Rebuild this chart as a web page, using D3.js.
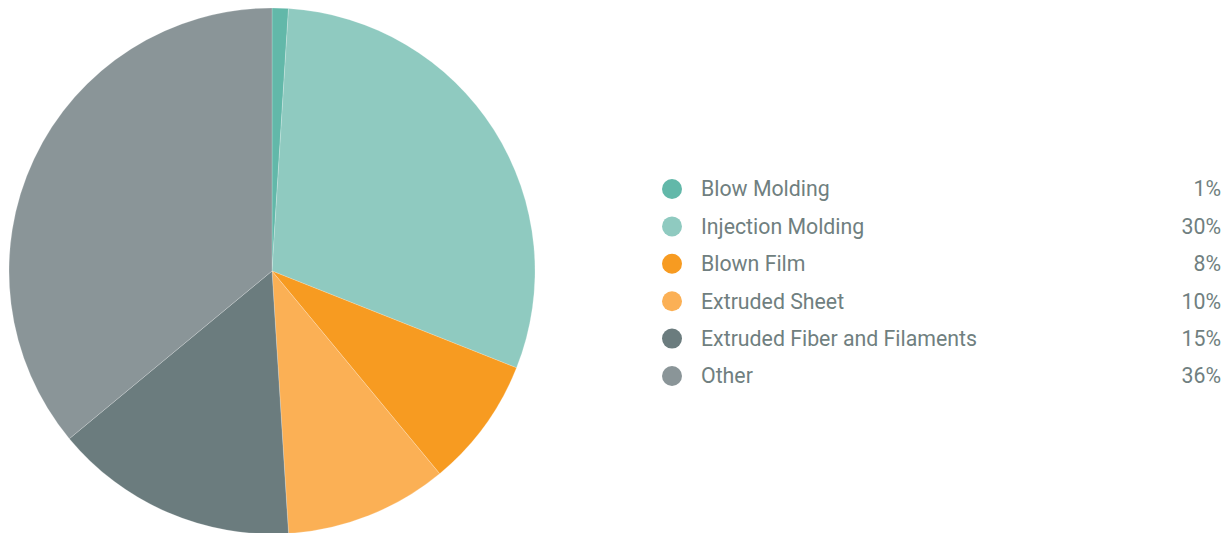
<!DOCTYPE html>
<html>
<head>
<meta charset="utf-8">
<script src="https://cdn.jsdelivr.net/npm/d3@7"></script>
<style>
  html, body { margin: 0; padding: 0; background: #ffffff; }
  svg { display: block; }
  text { font-family: Roboto, "Noto Sans", sans-serif; }
</style>
</head>
<body>
<svg id="chart" width="1230" height="533"></svg>
<script>
// Share of resin use by processing method
const categories = ["Blow Molding", "Injection Molding", "Blown Film", "Extruded Sheet", "Extruded Fiber and Filaments", "Other"];
const shares = [1, 30, 8, 10, 15, 36];
const shareLabels = ["1%", "30%", "8%", "10%", "15%", "36%"];
const colors = ["#62b8a9", "#8fcac0", "#f79b21", "#fbb055", "#6b7c7e", "#8a9598"];

const svg = d3.select("#chart");

const cx = 272, cy = 271, radius = 263;

const color = d3.scaleOrdinal().domain(categories).range(colors);

const pie = d3.pie().sort(null).value(d => d.value);
const arc = d3.arc().innerRadius(0).outerRadius(radius);

const data = categories.map((c, i) => ({ name: c, value: shares[i] }));

const g = svg.append("g").attr("transform", `translate(${cx},${cy})`);
g.selectAll("path")
  .data(pie(data))
  .join("path")
  .attr("d", arc)
  .attr("fill", d => color(d.data.name))
  .attr("stroke", "#ffffff")
  .attr("stroke-width", 0.4)
  .attr("stroke-opacity", 0.5);

// Legend
const rowY = d3.scalePoint().domain(categories).range([189, 376]);
const legend = svg.append("g");
const rows = legend.selectAll("g")
  .data(data)
  .join("g")
  .attr("transform", d => `translate(0,${rowY(d.name)})`);

rows.append("circle")
  .attr("cx", 672)
  .attr("cy", 0)
  .attr("r", 10)
  .attr("fill", d => color(d.name));

rows.append("text")
  .attr("x", 701)
  .attr("y", 0)
  .attr("dy", "0.35em")
  .attr("font-size", 21.3)
  .attr("fill", "#707f80")
  .text(d => d.name);

rows.append("text")
  .attr("x", 1221)
  .attr("y", 0)
  .attr("dy", "0.35em")
  .attr("text-anchor", "end")
  .attr("font-size", 21.3)
  .attr("fill", "#707f80")
  .text((d, i) => shareLabels[i]);
</script>
</body>
</html>
